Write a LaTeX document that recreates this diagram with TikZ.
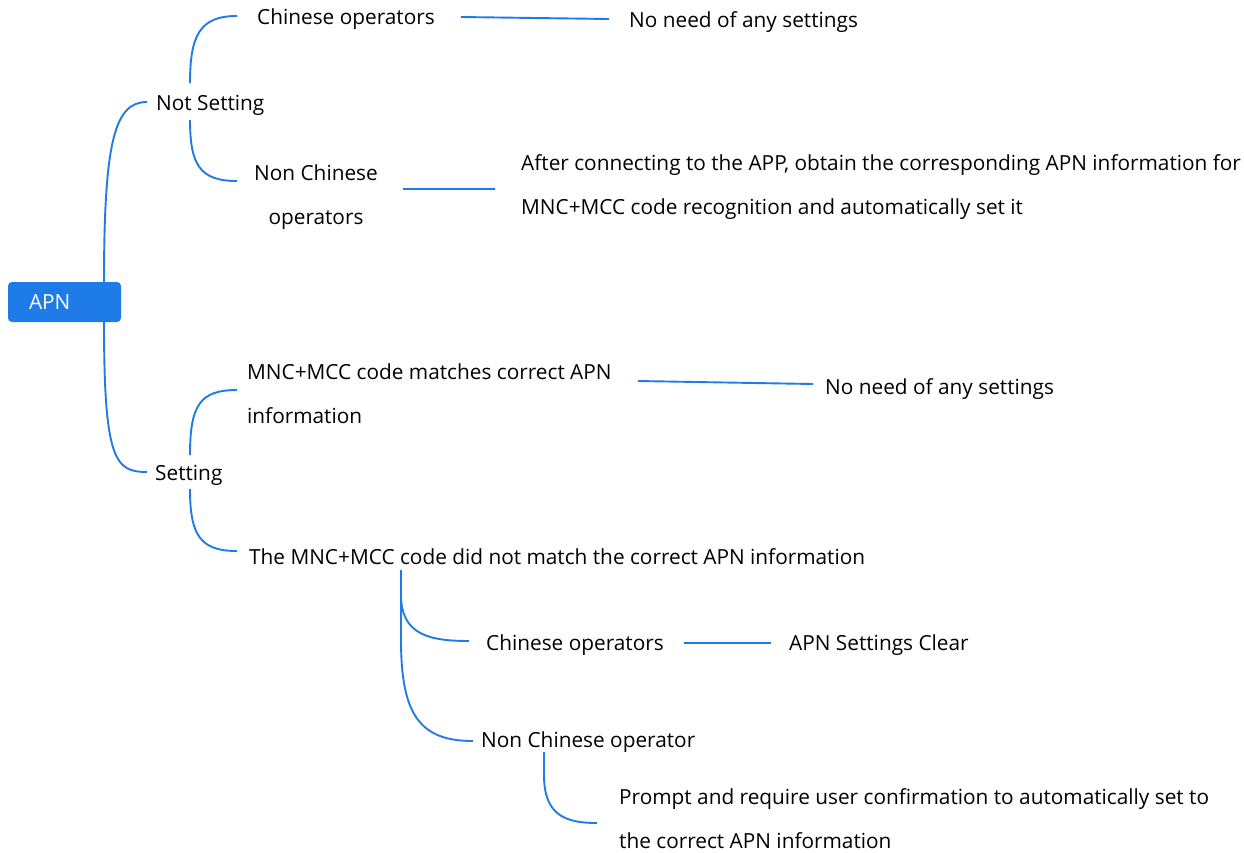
\documentclass[tikz,border=0pt]{standalone}
\usepackage{fontspec}
\setmainfont{Open Sans}
\definecolor{lineblue}{RGB}{31,123,232}
\definecolor{apnblue}{RGB}{31,123,232}
\begin{document}
\begin{tikzpicture}[x=1pt,y=-1pt,
  lbl/.style={inner sep=0pt,anchor=west,text height=16pt,text depth=0pt,font=\fontsize{20.8}{44}\selectfont},
  mlbl/.style={inner sep=0pt,anchor=west,font=\fontsize{20.8}{44}\selectfont},
  conn/.style={draw=lineblue,line width=1.9pt},
  root/.style={fill=apnblue,rounded corners=4pt,text=white,inner xsep=21pt,inner ysep=0pt,
     minimum height=40pt,text width=71pt,align=left,font=\fontsize{20.8}{24}\selectfont}]
\useasboundingbox (0,0) rectangle (1244,852);
\node[root] (apn) at (64.5,302) {APN};
\node[lbl] (ns) at (156,102) {Not Setting};
\node[lbl] (set) at (155,472) {Setting};
\node[lbl] (co1) at (257,16) {Chinese operators};
\node[mlbl,align=center] (nco) at (254,197) {Non Chinese\\operators};
\node[lbl] (nn1) at (629,19) {No need of any settings};
\node[mlbl,align=left] (after) at (521,187.5) {After connecting to the APP, obtain the corresponding APN information for\\MNC+MCC code recognition and automatically set it};
\node[mlbl,align=left] (mm) at (247,393.5) {MNC+MCC code matches correct APN\\information};
\node[lbl] (nn2) at (825,386) {No need of any settings};
\node[lbl] (nm) at (249,556) {The MNC+MCC code did not match the correct APN information};
\node[lbl] (co2) at (486,642) {Chinese operators};
\node[lbl] (asc) at (789,642) {APN Settings Clear};
\node[lbl] (nco2) at (481,739) {Non Chinese operator};
\node[mlbl,align=left] (prompt) at (619,818.5) {Prompt and require user confirmation to automatically set to\\the correct APN information};
% connectors
\draw[conn] ([xshift=39.5pt]apn.north) .. controls +(0,-142) and +(-32,0) .. ([xshift=-9pt]ns.west);
\draw[conn] ([xshift=39.5pt]apn.south) .. controls +(0,138) and +(-32,0) .. ([xshift=-8pt]set.west);
\draw[conn] ([shift={(34pt,19pt)}]ns.west) .. controls +(0,-48) and +(-37,0) .. ([xshift=-20pt]co1.west);
\draw[conn] ([shift={(34pt,-18pt)}]ns.west) .. controls +(0,45) and +(-37,0) .. ([shift={(-17pt,16pt)}]nco.west);
\draw[conn] ([xshift=26pt,yshift=-1pt]co1.east) -- ([xshift=-20pt]nn1.west);
\draw[conn] ([shift={(25pt,8pt)}]nco.east) -- ([shift={(-26pt,-1.5pt)}]after.west);
\draw[conn] ([shift={(35pt,17pt)}]set.west) .. controls +(0,-50) and +(-37,0) .. ([shift={(-10pt,3.5pt)}]mm.west);
\draw[conn] ([shift={(35pt,-17pt)}]set.west) .. controls +(0,46) and +(-37,0) .. ([shift={(-12pt,5pt)}]nm.west);
\draw[conn] ([shift={(26pt,12.5pt)}]mm.east) -- ([shift={(-12pt,2pt)}]nn2.west);
\draw[conn] ([shift={(152pt,-14pt)}]nm.west) -- +(0,25) .. controls +(0,40) and +(-39,0) .. ([shift={(-17pt,1pt)}]co2.west);
\draw[conn] ([shift={(152pt,-14pt)}]nm.west) -- +(0,70) .. controls +(0,75) and +(-53,0) .. ([shift={(-8pt,-2pt)}]nco2.west);
\draw[conn] ([xshift=20pt,yshift=-1pt]co2.east) -- ([xshift=-18pt,yshift=-1pt]asc.west);
\draw[conn] ([shift={(63pt,-13pt)}]nco2.west) -- +(0,23) .. controls +(0,40) and +(-32,0) .. ([shift={(-22pt,-4.5pt)}]prompt.west);
\end{tikzpicture}
\end{document}
